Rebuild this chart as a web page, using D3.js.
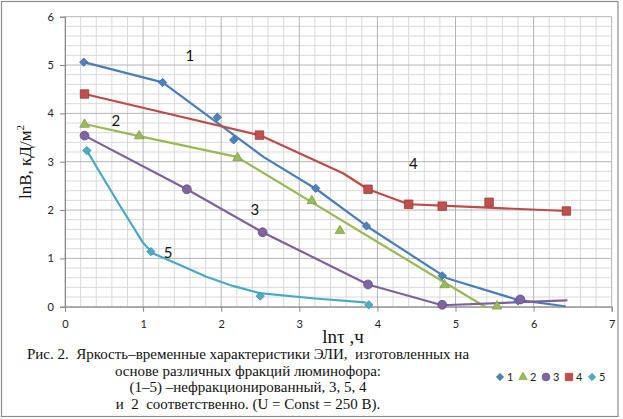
<!DOCTYPE html>
<html>
<head>
<meta charset="utf-8">
<script src="https://cdn.jsdelivr.net/npm/d3@7"></script>
<style>
  html, body { margin: 0; padding: 0; background: #fff; }
  svg { display: block; }
</style>
</head>
<body>
<svg id="chart" width="623" height="419"></svg>
<script>
// marker points
const s1X = [0.24, 1.25, 1.95, 2.16, 3.21, 3.86, 4.83, 5.8];
const s1Y = [5.06, 4.64, 3.92, 3.45, 2.45, 1.67, 0.64, 0.12];
const s2X = [0.25, 0.95, 2.21, 3.16, 3.52, 4.86, 5.53];
const s2Y = [3.77, 3.53, 3.08, 2.19, 1.57, 0.45, 0.01];
const s3X = [0.25, 1.56, 2.53, 3.88, 4.83, 5.83];
const s3Y = [3.54, 2.43, 1.54, 0.46, 0.04, 0.15];
const s4X = [0.25, 2.49, 3.88, 4.4, 4.83, 5.43, 6.42];
const s4Y = [4.4, 3.55, 2.43, 2.12, 2.08, 2.16, 1.98];
const s5X = [0.28, 1.1, 2.5, 3.89];
const s5Y = [3.23, 1.14, 0.22, 0.04];

// fitted curves (as traced on the picture)
const f1X = [0.24, 1.25, 2.54, 3.22, 3.86, 4.89, 5.8, 6.4];
const f1Y = [5.06, 4.64, 3.1, 2.43, 1.67, 0.59, 0.14, 0.01];
const f2X = [0.25, 0.95, 2.2, 4.86, 5.38];
const f2Y = [3.78, 3.53, 3.1, 0.5, 0];
const f3X = [0.25, 1.56, 2.53, 3.88, 4.83, 6.42];
const f3Y = [3.54, 2.43, 1.54, 0.46, 0.03, 0.13];
const f4X = [0.25, 2.49, 3.56, 3.88, 4.4, 4.83, 6.42];
const f4Y = [4.4, 3.55, 2.76, 2.43, 2.12, 2.09, 1.98];
const f5X = [0.28, 0.42, 0.7, 1.0, 1.13, 1.45, 1.81, 2.15, 2.49, 3.2, 3.84];
const f5Y = [3.23, 2.85, 2.1, 1.32, 1.1, 0.88, 0.62, 0.43, 0.28, 0.17, 0.09];

const seriesNames = ["1", "2", "3", "4", "5"];
const xTicks = [0, 1, 2, 3, 4, 5, 6, 7];
const yTicks = [0, 1, 2, 3, 4, 5, 6];

// curve number labels (data coords)
const labelText = ["1", "2", "3", "4", "5"];
const labelX = [1.6, 0.65, 2.43, 4.46, 1.32];
const labelY = [5.21, 3.86, 2.02, 2.97, 1.13];

const caption = [
  "Рис. 2.  Яркость–временные характеристики ЭЛИ,  изготовленных на",
  "основе различных фракций люминофора:",
  "(1–5) –нефракционированный, 3, 5, 4",
  "и  2  соответственно. (U = Const = 250 В)."
];

const zip = (xs, ys) => xs.map((x, i) => ({ x: x, y: ys[i] }));

const series = [
  { name: seriesNames[0], pts: zip(s1X, s1Y), fit: zip(f1X, f1Y), line: "#4A7EBB", fill: "#4F81BD", edge: "#3B6AA0", shape: "diamond" },
  { name: seriesNames[1], pts: zip(s2X, s2Y), fit: zip(f2X, f2Y), line: "#98B954", fill: "#9BBB59", edge: "#7E9C45", shape: "triangle" },
  { name: seriesNames[2], pts: zip(s3X, s3Y), fit: zip(f3X, f3Y), line: "#7D60A0", fill: "#8064A2", edge: "#664E85", shape: "circle" },
  { name: seriesNames[3], pts: zip(s4X, s4Y), fit: zip(f4X, f4Y), line: "#BE4B48", fill: "#C0504D", edge: "#9E3B38", shape: "square" },
  { name: seriesNames[4], pts: zip(s5X, s5Y), fit: zip(f5X, f5Y), line: "#46AAC5", fill: "#4BACC6", edge: "#3891A8", shape: "diamond" }
];

const svg = d3.select("#chart");

svg.append("rect")
  .attr("x", 0).attr("y", 0)
  .attr("width", 623).attr("height", 419)
  .attr("fill", "#fff");

svg.append("rect")
  .attr("x", 1.5).attr("y", 1.5)
  .attr("width", 616.5).attr("height", 415)
  .attr("fill", "none")
  .attr("stroke", "#8c8c8c")
  .attr("stroke-width", 1.2);

const plot = { left: 65, right: 611.7, top: 16.7, bottom: 306.7 };

const xScale = d3.scaleLinear().domain([0, 7]).range([plot.left, plot.right]);
const yScale = d3.scaleLinear().domain([0, 6]).range([plot.bottom, plot.top]);

const g = svg.append("g");

// minor grid
const minorX = d3.range(0, 7.001, 0.2).filter((v) => Math.abs(v - Math.round(v)) > 1e-6);
const minorY = d3.range(0, 6.001, 0.2).filter((v) => Math.abs(v - Math.round(v)) > 1e-6);

g.selectAll(".mx").data(minorX).join("line")
  .attr("x1", (d) => xScale(d)).attr("x2", (d) => xScale(d))
  .attr("y1", plot.top).attr("y2", plot.bottom)
  .attr("stroke", "#d9d9d9").attr("stroke-width", 1);

g.selectAll(".my").data(minorY).join("line")
  .attr("y1", (d) => yScale(d)).attr("y2", (d) => yScale(d))
  .attr("x1", plot.left).attr("x2", plot.right)
  .attr("stroke", "#d9d9d9").attr("stroke-width", 1);

// major grid
g.selectAll(".gx").data(xTicks).join("line")
  .attr("x1", (d) => xScale(d)).attr("x2", (d) => xScale(d))
  .attr("y1", plot.top).attr("y2", plot.bottom)
  .attr("stroke", "#b4b4b4").attr("stroke-width", 1);

g.selectAll(".gy").data(yTicks).join("line")
  .attr("y1", (d) => yScale(d)).attr("y2", (d) => yScale(d))
  .attr("x1", plot.left).attr("x2", plot.right)
  .attr("stroke", "#b4b4b4").attr("stroke-width", 1);

// axes
const yAxis = svg.append("g")
  .attr("transform", `translate(${plot.left},0)`)
  .call(d3.axisLeft(yScale).tickValues(yTicks).tickSize(5).tickPadding(6).tickFormat(d3.format("d")));

const xAxis = svg.append("g")
  .attr("transform", `translate(0,${plot.bottom})`)
  .call(d3.axisBottom(xScale).tickValues(xTicks).tickSize(5).tickPadding(9).tickFormat(d3.format("d")));

[xAxis, yAxis].forEach((a) => {
  a.select(".domain").attr("stroke", "#868686");
  a.selectAll(".tick line").attr("stroke", "#868686");
  a.selectAll(".tick text")
    .attr("fill", "#222")
    .attr("font-family", "Lato, 'Open Sans', sans-serif")
    .attr("font-size", 11);
});

// fitted lines
const lineGen = d3.line()
  .x((d) => xScale(d.x))
  .y((d) => yScale(d.y));

svg.append("g").selectAll("path")
  .data(series)
  .join("path")
  .attr("d", (d) => lineGen(d.fit))
  .attr("fill", "none")
  .attr("stroke", (d) => d.line)
  .attr("stroke-width", 2.2)
  .attr("stroke-linejoin", "round")
  .attr("stroke-linecap", "round");

// markers
const symbolFor = (shape, k) => {
  if (shape === "diamond") return d3.symbol().type(d3.symbolSquare).size(34 * k)();
  if (shape === "triangle") return d3.symbol().type(d3.symbolTriangle).size(40 * k)();
  if (shape === "circle") return d3.symbol().type(d3.symbolCircle).size(62 * k)();
  return d3.symbol().type(d3.symbolSquare).size(72 * k)();
};

series.forEach((s) => {
  svg.append("g").selectAll("path")
    .data(s.pts)
    .join("path")
    .attr("d", symbolFor(s.shape, 1))
    .attr("transform", (d) => `translate(${xScale(d.x)},${yScale(d.y)})` + (s.shape === "diamond" ? " rotate(45)" : ""))
    .attr("fill", s.fill)
    .attr("stroke", s.edge)
    .attr("stroke-width", 0.8);
});

// curve number labels
svg.append("g").selectAll("text")
  .data(labelText)
  .join("text")
  .attr("x", (d, i) => xScale(labelX[i]))
  .attr("y", (d, i) => yScale(labelY[i]))
  .attr("text-anchor", "middle")
  .attr("dominant-baseline", "central")
  .attr("font-family", "Lato, 'Open Sans', sans-serif")
  .attr("font-size", 15)
  .attr("fill", "#111")
  .text((d) => d);

// axis titles
const yTitle = svg.append("text")
  .attr("transform", "translate(31,162) rotate(-90)")
  .attr("text-anchor", "middle")
  .attr("font-family", "'Liberation Serif', 'Times New Roman', serif")
  .attr("font-size", 17)
  .attr("fill", "#111");
yTitle.append("tspan").text("lnB, кД/м");
yTitle.append("tspan").attr("font-size", 11).attr("dy", -7).text("2");

svg.append("text")
  .attr("x", 343)
  .attr("y", 343)
  .attr("text-anchor", "middle")
  .attr("font-family", "'Liberation Serif', 'Times New Roman', serif")
  .attr("font-size", 19)
  .attr("fill", "#111")
  .text("lnτ ,ч");

// caption
svg.append("g").selectAll("text")
  .data(caption)
  .join("text")
  .attr("x", 248)
  .attr("y", (d, i) => 359 + i * 16.5)
  .attr("text-anchor", "middle")
  .attr("font-family", "'Liberation Serif', 'Times New Roman', serif")
  .attr("font-size", 15)
  .attr("fill", "#111")
  .attr("xml:space", "preserve")
  .style("white-space", "pre")
  .text((d) => d);

// legend
const legend = svg.append("g").attr("transform", "translate(500,377)");
const item = legend.selectAll("g")
  .data(series)
  .join("g")
  .attr("transform", (d, i) => `translate(${i * 23},0)`);

item.append("path")
  .attr("d", (d) => symbolFor(d.shape, 0.78))
  .attr("transform", (d) => (d.shape === "diamond" ? "rotate(45)" : ""))
  .attr("fill", (d) => d.fill)
  .attr("stroke", (d) => d.edge)
  .attr("stroke-width", 0.6);

item.append("text")
  .attr("x", 7)
  .attr("dy", "0.35em")
  .attr("font-family", "Lato, 'Open Sans', sans-serif")
  .attr("font-size", 11)
  .attr("fill", "#222")
  .text((d) => d.name);
</script>
</body>
</html>
